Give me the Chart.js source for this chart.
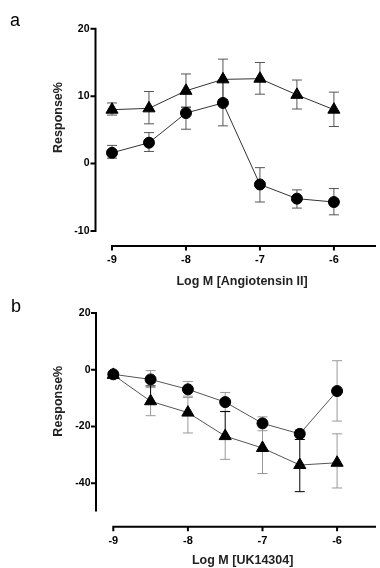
<!DOCTYPE html>
<html>
<head>
<meta charset="utf-8">
<script src="https://cdn.jsdelivr.net/npm/chart.js@4.4.1/dist/chart.umd.min.js"></script>
<style>
  body { margin: 0; background: #fff; width: 380px; height: 568px; position: relative; overflow: hidden; }
  canvas { position: absolute; left: 0; }
  #chartA { top: 0; }
  #chartB { top: 284px; }
</style>
</head>
<body>
<canvas id="chartA" width="380" height="300"></canvas>
<canvas id="chartB" width="380" height="284"></canvas>
<script>
// log molar concentrations
const doses = [-9, -8.5, -8, -7.5, -7, -6.5, -6];
const xTicks = [-9, -8, -7, -6];

// panel a - Angiotensin II
const angCircle   = [1.6, 3.1, 7.5, 9.0, -3.1, -5.2, -5.7];
const angCircleHi = [2.7, 4.6, 8.4, 12.4, -0.6, -3.9, -3.7];
const angCircleLo = [0.8, 1.8, 5.1, 5.6, -5.7, -6.6, -7.6];
const angTri      = [8.0, 8.2, 10.8, 12.5, 12.6, 10.2, 8.0];
const angTriHi    = [9.0, 10.7, 13.3, 15.5, 15.0, 12.4, 10.6];
const angTriLo    = [7.2, 5.9, 8.3, 9.5, 10.3, 8.1, 5.5];
const yTicksA = [20, 10, 0, -10];

// panel b - UK14304
const ukCircle   = [-1.6, -3.4, -6.9, -11.4, -18.9, -22.6, -7.5];
const ukCircleHi = [-0.8, -0.3, -4.1, -8.0, -16.6, -21.1, 3.2];
const ukCircleLo = [-2.4, -6.3, -9.3, -14.8, -21.5, -24.6, -18.1];
const ukTri      = [-1.8, -11.1, -15.1, -23.4, -27.6, -33.6, -32.8];
const ukTriHi    = [-1.2, -5.7, -9.8, -14.7, -18.6, -24.6, -22.6];
const ukTriLo    = [-2.4, -16.2, -22.3, -31.6, -36.6, -43.0, -41.7];
const yTicksB = [20, 0, -20, -40];

const FONT = "'Liberation Sans', Arial, sans-serif";
const GREY = '#999';
const DARK = '#000';

function points(ys) {
    return doses.map((d, i) => ({ x: d, y: ys[i] }));
}

// GraphPad style detached axes, error bars, titles
const prismPlugin = {
    id: 'prism',
    beforeDatasetsDraw(chart, args, opts) {
        const { ctx, chartArea, scales: { x, y } } = chart;
        const axX = chartArea.left - opts.yGap;
        const axY = chartArea.bottom + opts.xGap;
        ctx.save();

        // axes
        ctx.strokeStyle = '#000';
        ctx.lineWidth = 2;
        ctx.beginPath();
        ctx.moveTo(axX, y.getPixelForValue(y.max) - 1);
        ctx.lineTo(axX, y.getPixelForValue(y.min));
        y.ticks.forEach(t => {
            const py = y.getPixelForValue(t.value);
            ctx.moveTo(axX - 5, py);
            ctx.lineTo(axX + 1, py);
        });
        ctx.moveTo(x.getPixelForValue(x.min) - 1, axY);
        ctx.lineTo(chartArea.right + 4, axY);
        x.ticks.forEach(t => {
            const px = x.getPixelForValue(t.value);
            ctx.moveTo(px, axY - 1);
            ctx.lineTo(px, axY + 4.5);
        });
        ctx.stroke();

        // error bars
        ctx.lineWidth = 1;
        chart.data.datasets.forEach(ds => {
            ds.data.forEach((p, j) => {
                const px = x.getPixelForValue(p.x);
                const py = y.getPixelForValue(p.y);
                [[ds.errHi[j], ds.errUpColor], [ds.errLo[j], ds.errDownColor]].forEach(([v, col]) => {
                    const pv = y.getPixelForValue(v);
                    ctx.strokeStyle = Array.isArray(col) ? col[j] : col;
                    ctx.beginPath();
                    ctx.moveTo(px, py);
                    ctx.lineTo(px, pv);
                    ctx.moveTo(px - 5, pv);
                    ctx.lineTo(px + 5, pv);
                    ctx.stroke();
                });
            });
        });

        // y title
        ctx.fillStyle = '#222';
        ctx.font = 'bold 12.5px ' + FONT;
        ctx.textAlign = 'center';
        ctx.textBaseline = 'middle';
        ctx.translate(opts.yTitleX, opts.yTitleY);
        ctx.rotate(-Math.PI / 2);
        ctx.fillText('Response%', 0, 0);
        ctx.restore();

        // panel letter
        ctx.save();
        ctx.fillStyle = '#000';
        ctx.font = '18px ' + FONT;
        ctx.textAlign = 'left';
        ctx.textBaseline = 'alphabetic';
        ctx.fillText(opts.letter, opts.letterX, opts.letterY);
        ctx.restore();
    }
};

function makeChart(id, p) {
    return new Chart(document.getElementById(id), {
        type: 'line',
        data: {
            datasets: [
                {
                    data: points(p.circle),
                    errHi: p.circleHi, errLo: p.circleLo,
                    errUpColor: p.circleErrColor, errDownColor: p.circleErrColor,
                    pointStyle: 'circle', pointRadius: 5.5,
                    borderColor: p.lineColor, borderWidth: 1,
                    pointBackgroundColor: '#000', pointBorderColor: '#000', pointBorderWidth: 1
                },
                {
                    data: points(p.tri),
                    errHi: p.triHi, errLo: p.triLo,
                    errUpColor: p.triErrUp, errDownColor: p.triErrDown,
                    pointStyle: 'triangle', pointRadius: 7,
                    borderColor: p.lineColor, borderWidth: 1,
                    pointBackgroundColor: '#000', pointBorderColor: '#000', pointBorderWidth: 1
                }
            ]
        },
        options: {
            responsive: false,
            animation: false,
            events: [],
            clip: false,
            layout: { padding: p.padding },
            elements: { line: { tension: 0 } },
            plugins: {
                legend: { display: false },
                tooltip: { enabled: false },
                prism: p.prism
            },
            scales: {
                x: {
                    type: 'linear',
                    min: -9,
                    max: p.xMax,
                    afterBuildTicks: s => { s.ticks = xTicks.map(v => ({ value: v })); },
                    afterFit: s => { s.height = p.xHeight; },
                    grid: { display: false, drawTicks: false },
                    border: { display: false },
                    ticks: {
                        padding: p.xTickPad,
                        color: '#000',
                        font: { family: FONT, size: 11, weight: 'bold' }
                    },
                    title: {
                        display: true,
                        text: p.xTitle,
                        color: '#222',
                        padding: { top: 0, bottom: p.xTitlePad },
                        font: { family: FONT, size: 12.5, weight: 'bold' }
                    }
                },
                y: {
                    min: p.yMin,
                    max: 20,
                    afterBuildTicks: s => { s.ticks = p.yTicks.map(v => ({ value: v })); },
                    afterFit: s => { s.width = 50; },
                    grid: { display: false, drawTicks: false },
                    border: { display: false },
                    ticks: {
                        padding: p.yTickPad,
                        color: '#000',
                        font: { family: FONT, size: 10.5, weight: 'bold' }
                    }
                }
            }
        },
        plugins: [prismPlugin]
    });
}

makeChart('chartA', {
    circle: angCircle, circleHi: angCircleHi, circleLo: angCircleLo,
    tri: angTri, triHi: angTriHi, triLo: angTriLo,
    circleErrColor: '#555', triErrUp: '#555', triErrDown: '#555',
    lineColor: '#333',
    padding: { left: 62, right: 2, top: 21.5, bottom: 9 },
    xMax: -5.485, xHeight: 60, xTickPad: 22.4, xTitlePad: 1.5,
    xTitle: 'Log M [Angiotensin II]',
    yMin: -10, yTicks: yTicksA, yTickPad: 22.5,
    prism: { yGap: 16.5, xGap: 15, yTitleX: 59, yTitleY: 117.5, letter: 'a', letterX: 10, letterY: 26 }
});

makeChart('chartB', {
    circle: ukCircle, circleHi: ukCircleHi, circleLo: ukCircleLo,
    tri: ukTri, triHi: ukTriHi, triLo: ukTriLo,
    circleErrColor: GREY,
    triErrUp:   [GREY, DARK, GREY, DARK, GREY, DARK, GREY],
    triErrDown: [GREY, GREY, GREY, GREY, GREY, DARK, GREY],
    lineColor: '#555',
    padding: { left: 63.3, right: 0, top: 21.5, bottom: 0 },
    xMax: -5.532, xHeight: 56.5, xTickPad: 22.6, xTitlePad: 0,
    xTitle: 'Log M [UK14304]',
    yMin: -50, yTicks: yTicksB, yTickPad: 22.8,
    prism: { yGap: 17.3, xGap: 15.2, yTitleX: 59, yTitleY: 117.2, letter: 'b', letterX: 11, letterY: 28 }
});
</script>
</body>
</html>
